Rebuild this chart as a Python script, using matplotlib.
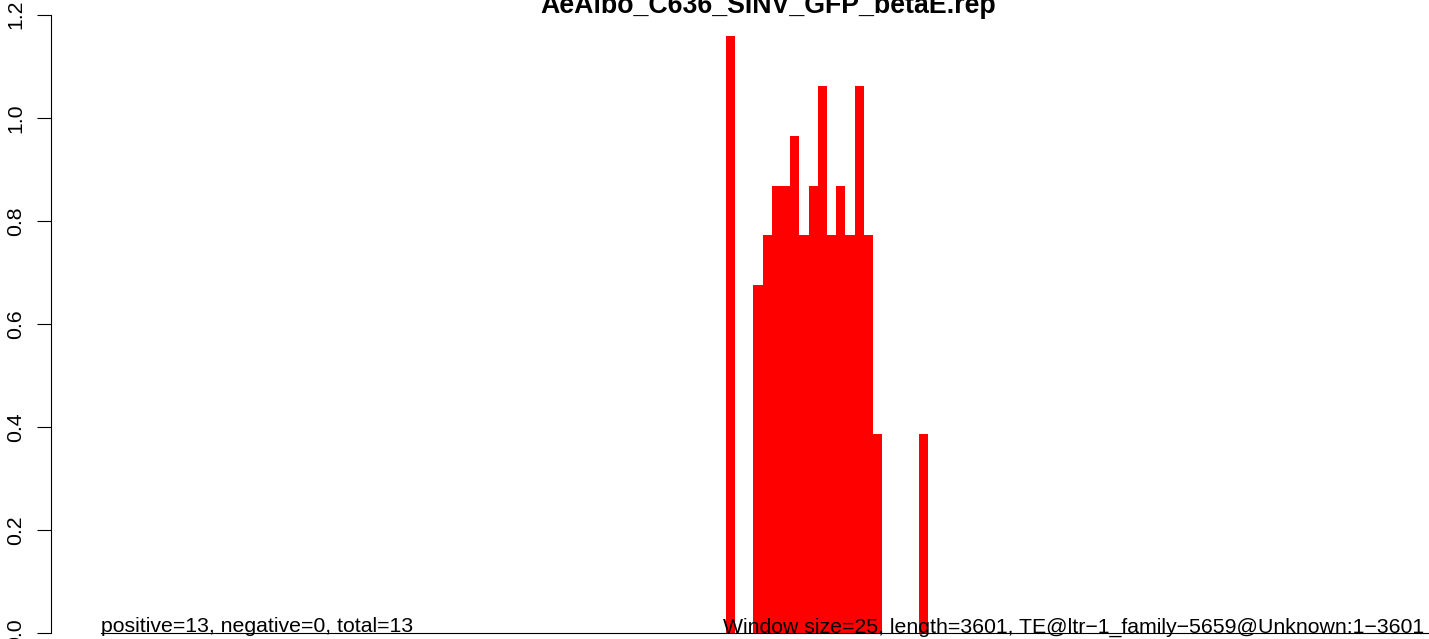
import numpy as np
import matplotlib.pyplot as plt

plt.rcParams['font.family'] = ['Liberation Sans', 'DejaVu Sans']

title = "AeAlbo_C636_SINV_GFP_betaE.rep"
window = 25
length = 3601
positive, negative, total = 13, 0, 13
te_name = "TE@ltr\u22121_family\u22125659@Unknown:1\u22123601"

# windows that have reads, and their heights
bin_idx = [68, 71, 72, 73, 74, 75, 76, 77, 78, 79, 80, 81, 82, 83, 84, 89]
heights = [1.158, 0.675, 0.772, 0.868, 0.868, 0.965, 0.772, 0.868,
           1.061, 0.772, 0.868, 0.772, 1.061, 0.772, 0.386, 0.386]

n_bins = length // window
vals = np.zeros(n_bins)
vals[bin_idx] = heights

W, H = 1429, 639
fig = plt.figure(figsize=(W / 100, H / 100), dpi=100)
ax_left = 50.7
ax_bot = 633.3
ax_top = 14.7
ax = fig.add_axes([ax_left / W, (H - ax_bot) / H, 1 - ax_left / W, (ax_bot - ax_top) / H])

ax.bar(np.arange(n_bins), vals, width=1, align='edge', color='red', linewidth=0)
ax.plot([0, n_bins + 20], [0, 0], color='black', lw=0.8, clip_on=False)

px = 9.19
x0 = 101
ax.set_xlim(-(x0 - ax_left) / px, (W - ax_left) / px - (x0 - ax_left) / px)
ax.set_ylim(0, 1.2)

for s in ['top', 'right', 'bottom']:
    ax.spines[s].set_visible(False)
ax.spines['left'].set_bounds(0, 1.2)
ax.spines['left'].set_linewidth(0.8)
ax.set_xticks([])
ax.set_yticks(np.arange(0, 1.21, 0.2))
ax.set_yticklabels(['%.1f' % v for v in np.arange(0, 1.21, 0.2)])
ax.tick_params(axis='y', direction='out', length=9.9, width=0.8, pad=8.3, labelsize=15.3)
for lab in ax.get_yticklabels():
    lab.set_rotation(90)
    lab.set_va('center')
    lab.set_ha('right')

ax.text(0, 0.002, 'positive=%d, negative=%d, total=%d' % (positive, negative, total),
        ha='left', va='baseline', fontsize=15.3, clip_on=False)
ax.text(n_bins, 0.002, 'Window size=%d, length=%d, %s' % (window, length, te_name),
        ha='right', va='baseline', fontsize=15.3, clip_on=False)

fig.text(768 / W, (H - 13) / H, title, ha='center', va='baseline',
         fontsize=19.3, fontweight='bold')

fig.savefig('out.png', dpi=100)
